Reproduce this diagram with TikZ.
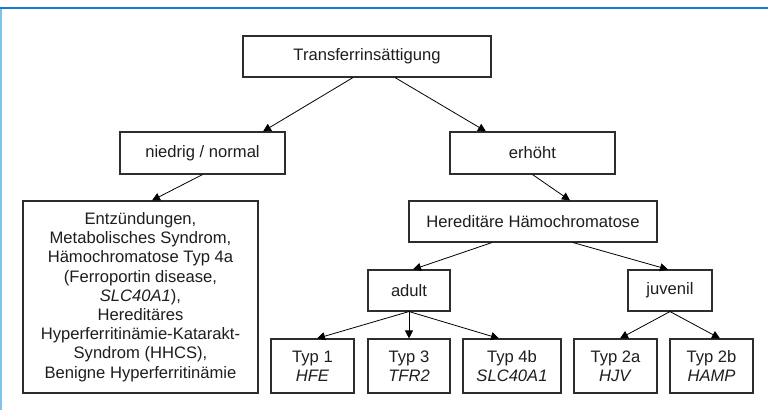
\documentclass[tikz,border=0pt]{standalone}
\usepackage{fontspec}
\setmainfont{Liberation Sans}
\usetikzlibrary{arrows.meta}
\definecolor{frameblue}{RGB}{20,125,205}
\definecolor{framelight}{RGB}{130,195,235}
\definecolor{boxline}{RGB}{45,45,45}
\definecolor{txt}{RGB}{30,30,30}
\begin{document}
\begin{tikzpicture}[x=1pt,y=-1pt,
  box/.style={draw=boxline,line width=1.1pt,rectangle,inner sep=0pt,align=center,
    text=txt,font=\fontsize{16.6}{19.2}\selectfont},
  conn/.style={draw=black,line width=0.8pt,-{Triangle[length=8pt,width=8pt]}}]
\useasboundingbox (0,0) rectangle (768,410);
\fill[white] (0,0) rectangle (768,410);
\draw[frameblue,line width=2pt] (0,7.5) -- (768,7.5);
\draw[framelight,line width=1.5pt] (0.75,8.5) -- (0.75,410);

\node[box,minimum width=248pt,minimum height=41pt] (t) at (367,56.5) {Transferrinsättigung};
\node[box,minimum width=165pt,minimum height=42pt] (n) at (202.5,153) {niedrig / normal};
\node[box,minimum width=165pt,minimum height=42pt] (e) at (532.5,153) {erhöht};
\node[box,minimum width=235pt,minimum height=192pt] (l) at (140.5,297) {Entzündungen,\\Metabolisches Syndrom,\\Hämochromatose Typ 4a\\(Ferroportin disease,\\\textit{SLC40A1}),\\Hereditäres\\Hyperferritinämie-Katarakt-\\Syndrom (HHCS),\\Benigne Hyperferritinämie};
\node[box,minimum width=248pt,minimum height=41pt] (h) at (533,221.5) {Hereditäre Hämochromatose};
\node[box,minimum width=82pt,minimum height=41pt] (a) at (409,290.5) {adult};
\node[box,minimum width=84pt,minimum height=41pt] (j) at (670,290.5) {juvenil};
\node[box,minimum width=83pt,minimum height=54pt] (t1) at (312.5,366) {Typ 1\\\textit{HFE}};
\node[box,minimum width=82pt,minimum height=54pt] (t3) at (409,366) {Typ 3\\\textit{TFR2}};
\node[box,minimum width=98pt,minimum height=54pt] (t4) at (512,366) {Typ 4b\\\textit{SLC40A1}};
\node[box,minimum width=83pt,minimum height=54pt] (t2a) at (615.5,366) {Typ 2a\\\textit{HJV}};
\node[box,minimum width=83pt,minimum height=54pt] (t2b) at (711.5,366) {Typ 2b\\\textit{HAMP}};

\draw[conn] ([xshift=-14pt]t.south) -- ([xshift=60.5pt]n.north);
\draw[conn] ([xshift=28pt]t.south) -- ([xshift=-46.5pt]e.north);
\draw[conn] (n.south) -- ([xshift=11.5pt]l.north);
\draw[conn] (e.south) -- ([xshift=37pt]h.north);
\draw[conn] ([xshift=-41pt]h.south) -- ([xshift=4pt]a.north);
\draw[conn] ([xshift=40pt]h.south) -- ([xshift=-2pt]j.north);
\draw[conn] (a.south) -- ([xshift=4.5pt]t1.north);
\draw[conn] (a.south) -- (t3.north);
\draw[conn] (a.south) -- ([xshift=-13pt]t4.north);
\draw[conn] (j.south) -- ([xshift=4.5pt]t2a.north);
\draw[conn] (j.south) -- ([xshift=8.5pt]t2b.north);
\end{tikzpicture}
\end{document}
